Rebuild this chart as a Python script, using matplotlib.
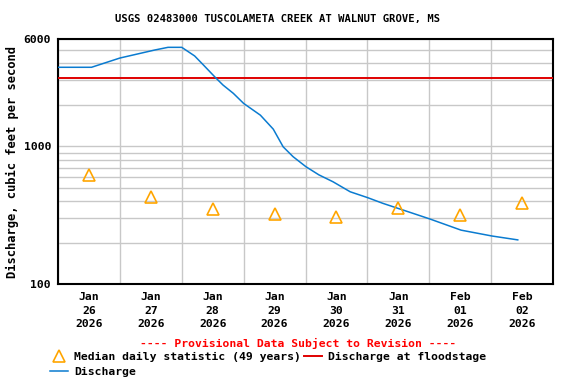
import matplotlib
matplotlib.use('Agg')
import matplotlib.pyplot as plt
import matplotlib.dates as mdates
from matplotlib.ticker import FixedLocator, NullFormatter
import pandas as pd
import numpy as np

# discharge readings
q_times = ['2026-01-26 00:00', '2026-01-26 13:00', '2026-01-27 00:00', '2026-01-27 13:30',
           '2026-01-27 18:40', '2026-01-28 00:00', '2026-01-28 05:00', '2026-01-28 08:30',
           '2026-01-28 13:00', '2026-01-28 16:00', '2026-01-28 20:00', '2026-01-29 00:00',
           '2026-01-29 06:30', '2026-01-29 11:30', '2026-01-29 15:20', '2026-01-29 19:10',
           '2026-01-30 00:10', '2026-01-30 05:10', '2026-01-30 10:40', '2026-01-30 17:20',
           '2026-01-31 00:10', '2026-01-31 06:00', '2026-01-31 12:40', '2026-02-01 00:20',
           '2026-02-01 12:20', '2026-02-02 00:20', '2026-02-02 10:20']
q_values = [3740, 3740, 4365, 4990, 5220, 5220, 4520, 3870, 3160, 2780, 2420, 2045,
            1680, 1330, 990, 840, 710, 620, 552, 467, 423, 385, 350, 296, 246, 223, 209]

# median daily statistic (49 years), plotted at noon of each day
median_days = ['2026-01-26', '2026-01-27', '2026-01-28', '2026-01-29',
               '2026-01-30', '2026-01-31', '2026-02-01', '2026-02-02']
median_values = [618, 430, 350, 322, 308, 356, 317, 389]

floodstage = 3150

t = pd.to_datetime(q_times)
md = pd.to_datetime(median_days) + pd.Timedelta(hours=12)

plt.rcParams['font.family'] = 'DejaVu Sans Mono'
plt.rcParams['font.weight'] = 'bold'

fig = plt.figure(figsize=(5.76, 3.84), dpi=100)
ax = fig.add_axes([58/576, 1 - 284/384, 495/576, 245/384])

x0 = pd.Timestamp('2026-01-26')
x1 = pd.Timestamp('2026-02-03')

fl, = ax.plot([x0, x1], [floodstage, floodstage], color='#e00000', lw=1.4, zorder=3,
              label='Discharge at floodstage')
dl, = ax.plot(t, q_values, color='#0a7bd0', lw=1.1, zorder=4, label='Discharge')
ml, = ax.plot(md, median_values, linestyle='none', marker='^', markersize=9,
              markerfacecolor='none', markeredgecolor='#ffa500', markeredgewidth=1.2,
              zorder=5, label='Median daily statistic (49 years)')

ax.set_yscale('log')
ax.set_ylim(100, 6000)
ax.set_xlim(x0, x1)

ax.yaxis.set_major_locator(FixedLocator([100, 1000, 6000]))
ax.yaxis.set_major_formatter(plt.FuncFormatter(lambda v, p: f'{int(v)}'))
minor_y = [200, 300, 400, 500, 600, 700, 800, 900, 2000, 3000, 4000, 5000]
ax.yaxis.set_minor_locator(FixedLocator(minor_y))
ax.yaxis.set_minor_formatter(NullFormatter())

ax.xaxis.set_major_locator(FixedLocator(mdates.date2num(md)))
ax.set_xticklabels([d.strftime('%b\n%d\n%Y') for d in md], linespacing=1.4,
                   fontweight='bold')
ax.xaxis.set_minor_locator(mdates.DayLocator())

ax.grid(which='both', color='#c8c8c8', lw=1.0)
ax.grid(which='major', axis='x', visible=False)
ax.set_axisbelow(True)
ax.tick_params(which='both', length=0, labelsize=8.2)
ax.tick_params(axis='x', pad=6)
ax.tick_params(axis='y', pad=5)
for lab in ax.get_yticklabels():
    lab.set_fontweight('bold')
for s in ax.spines.values():
    s.set_linewidth(1.5)
    s.set_color('black')

ax.set_ylabel('Discharge, cubic feet per second', fontsize=8.7, fontweight='bold')
ax.yaxis.set_label_coords(-39/495, 0.5)
fig.text(277.5/576, 1 - 19/384, 'USGS 02483000 TUSCOLAMETA CREEK AT WALNUT GROVE, MS',
         ha='center', va='center', fontsize=7.6, fontweight='bold')
fig.text(298.5/576, 1 - 343/384, '---- Provisional Data Subject to Revision ----',
         ha='center', va='center', fontsize=8.2, color='#ff0000', fontweight='bold')

fig.legend(handles=[ml, dl, fl], loc='upper left', bbox_to_anchor=(50/576, 1 - 352/384),
           ncol=2, frameon=False, prop={'size': 8.2, 'weight': 'bold'},
           handlelength=1.6, handletextpad=0.5,
           columnspacing=0.3, labelspacing=0.45, borderaxespad=0, borderpad=0)

fig.savefig('out.png', dpi=100)
